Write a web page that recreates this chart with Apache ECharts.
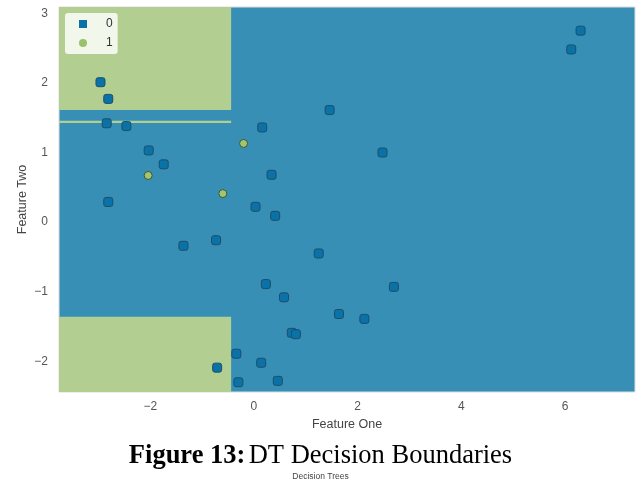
<!DOCTYPE html>
<html>
<head>
<meta charset="utf-8">
<script src="https://cdn.jsdelivr.net/npm/echarts@6/dist/echarts.min.js"></script>
<style>
  html, body { margin: 0; padding: 0; background: #ffffff; }
  #chart { width: 641px; height: 485px; }
</style>
</head>
<body>
<div id="chart"></div>
<script>
// Class 0 samples: [Feature One, Feature Two]
const class0Points = [
  [-2.96, 2.01], [-2.81, 1.77], [-2.84, 1.42], [-2.46, 1.38], [-2.03, 1.03],
  [-1.74, 0.83], [0.16, 1.36], [0.34, 0.68], [-2.81, 0.29], [0.03, 0.22],
  [0.41, 0.09], [-1.36, -0.34], [-0.73, -0.26], [1.25, -0.45], [0.23, -0.89],
  [0.58, -1.08], [0.73, -1.59], [0.81, -1.61], [-0.34, -1.89], [0.14, -2.02],
  [-0.71, -2.09], [-0.30, -2.30], [0.46, -2.28], [6.30, 2.75], [6.12, 2.48],
  [1.46, 1.61], [2.48, 1.00], [2.70, -0.93], [1.64, -1.32], [2.13, -1.39]
];
// Class 1 samples
const class1Points = [
  [-0.20, 1.13], [-2.04, 0.67], [-0.60, 0.41]
];
// Regions predicted as class 1: [xFrom, xTo, yFrom, yTo]
const class1Regions = [
  [-3.76, -0.44, 1.61, 3.09],
  [-3.76, -0.44, 1.425, 1.455],
  [-3.76, -0.44, -2.44, -1.36]
];
// Axis extents and tick values
const xRange = [-3.76, 7.35];
const yRange = [-2.44, 3.09];
const xTicks = [-2, 0, 2, 4, 6];
const yTicks = [-2, -1, 0, 1, 2, 3];

const BLUE_BG = '#378fb6';
const GREEN_BG = '#b2cf91';
const fmt = v => String(v).replace('-', '\u2212');

const chart = echarts.init(document.getElementById('chart'), null, { renderer: 'canvas' });

const axisCommon = {
  axisLine: { show: false },
  axisTick: { show: false },
  splitLine: { show: false },
  axisLabel: { color: '#555555', fontSize: 12, fontFamily: 'Liberation Sans, Arial, sans-serif', formatter: fmt },
  nameTextStyle: { color: '#444444', fontSize: 12.5, fontFamily: 'Liberation Sans, Arial, sans-serif' }
};

chart.setOption({
  animation: false,
  grid: {
    left: 59, right: 6, top: 7, bottom: 93,
    show: true, backgroundColor: BLUE_BG, borderColor: '#dddddd', borderWidth: 1
  },
  xAxis: Object.assign({}, axisCommon, {
    type: 'value', min: xRange[0], max: xRange[1],
    name: 'Feature One', nameLocation: 'middle', nameGap: 26, nameMoveOverlap: false,
    axisLabel: Object.assign({}, axisCommon.axisLabel, { margin: 9, customValues: xTicks }),
    axisTick: { show: false, customValues: xTicks }
  }),
  yAxis: Object.assign({}, axisCommon, {
    type: 'value', min: yRange[0], max: yRange[1],
    name: 'Feature Two', nameLocation: 'middle', nameGap: 30, nameMoveOverlap: false,
    axisLabel: Object.assign({}, axisCommon.axisLabel, { margin: 11, customValues: yTicks }),
    axisTick: { show: false, customValues: yTicks }
  }),
  legend: {
    orient: 'vertical', left: 65, top: 13,
    backgroundColor: 'rgba(255,255,255,0.82)', borderRadius: 3,
    padding: [5, 5, 5, 14], itemGap: 7, itemWidth: 8, itemHeight: 8,
    textStyle: { color: '#333333', fontSize: 12, fontFamily: 'Liberation Sans, Arial, sans-serif', padding: [0, 0, 0, 14] },
    data: [
      { name: '0', icon: 'rect', itemStyle: { color: '#0a72a6', borderWidth: 0 } },
      { name: '1', icon: 'circle', itemStyle: { color: '#9bc16a', borderWidth: 0 } }
    ]
  },
  series: [
    {
      name: 'regions', type: 'scatter', data: [], silent: true, z: 1,
      markArea: {
        silent: true,
        itemStyle: { color: GREEN_BG, borderWidth: 0 },
        data: class1Regions.map(r => [{ coord: [r[0], r[2]] }, { coord: [r[1], r[3]] }])
      }
    },
    {
      name: '0', type: 'scatter', data: class0Points, symbol: 'roundRect', symbolSize: 9, z: 3,
      itemStyle: { color: '#0a72a6', borderColor: '#1c4f6a', borderWidth: 1, opacity: 1 }
    },
    {
      name: '1', type: 'scatter', data: class1Points, symbol: 'circle', symbolSize: 8, z: 3,
      itemStyle: { color: '#a2c56f', borderColor: '#3f5530', borderWidth: 1, opacity: 1 }
    }
  ],
  graphic: [
    {
      type: 'text', left: 'center', top: 443,
      style: {
        text: '{b|Figure 13:} {r|DT Decision Boundaries}',
        rich: {
          b: { fontFamily: 'Liberation Serif, Times New Roman, serif', fontWeight: 'bold', fontSize: 26.5, fill: '#000' },
          r: { fontFamily: 'Liberation Serif, Times New Roman, serif', fontSize: 26.5, fill: '#000' }
        }
      }
    },
    {
      type: 'text', left: 'center', top: 472,
      style: { text: 'Decision Trees', fontFamily: 'Liberation Sans, Arial, sans-serif', fontSize: 8.5, fill: '#444444' }
    }
  ]
});
</script>
</body>
</html>
